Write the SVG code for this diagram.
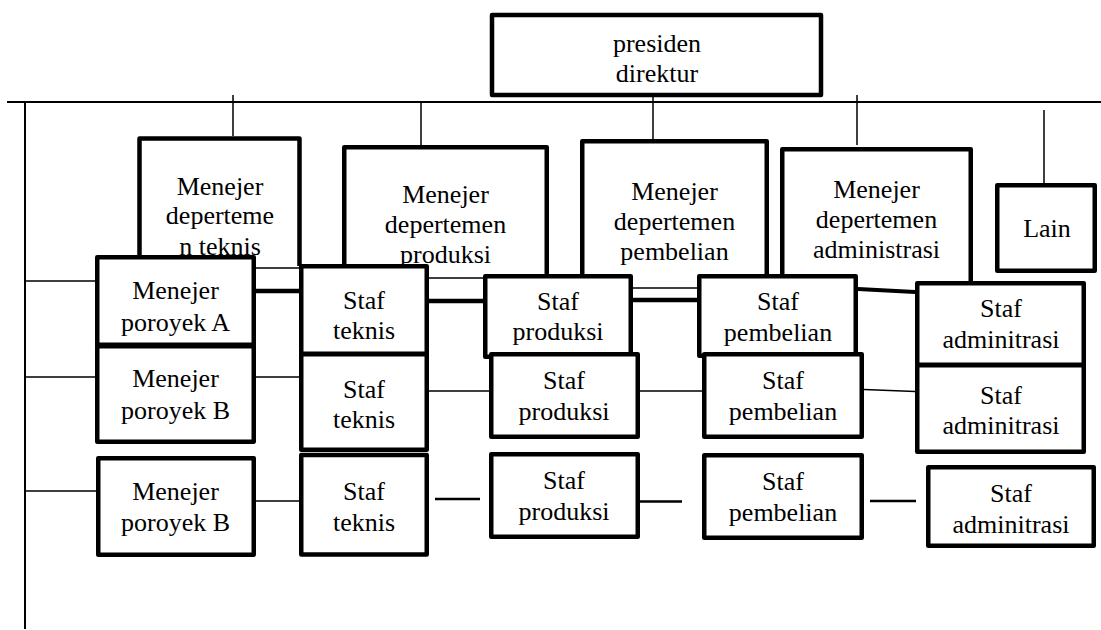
<svg xmlns="http://www.w3.org/2000/svg" width="1101" height="630" viewBox="0 0 1101 630">
<style>
.box{fill:#fff;stroke:#000;stroke-width:4.5;stroke-linejoin:round}
.t{font-family:"Liberation Serif","Times New Roman",serif;font-size:26px;fill:#000;text-anchor:middle}
.c{stroke:#000;stroke-width:1.5;fill:none}
.m{stroke:#000;stroke-width:2;fill:none}
.k{stroke:#000;stroke-width:4.5;fill:none}
.d{stroke:#000;stroke-width:2.5;fill:none}
</style>
<rect width="1101" height="630" fill="#fff"/>
<g id="presiden">
<rect class="box" x="492" y="15" width="329" height="80"/>
<text class="t" x="657" y="52">presiden</text>
<text class="t" x="657" y="82">direktur</text>
</g>
<g id="dept-teknis">
<path class="box" d="M139.5 262 V138.5 H299.5 V266"/>
<text class="t" x="220" y="195">Menejer</text>
<text class="t" x="220" y="224">deperteme</text>
<text class="t" x="220" y="255">n teknis</text>
</g>
<g id="dept-produksi">
<path class="box" d="M344.25 268 V147.25 H546.75 V276"/>
<text class="t" x="445.5" y="203">Menejer</text>
<text class="t" x="445.5" y="233">depertemen</text>
<text class="t" x="445.5" y="263">produksi</text>
</g>
<g id="dept-pembelian">
<path class="box" d="M582.25 276 V141.25 H766.75 V276"/>
<text class="t" x="674.5" y="200">Menejer</text>
<text class="t" x="674.5" y="230">depertemen</text>
<text class="t" x="674.5" y="260">pembelian</text>
</g>
<g id="dept-administrasi">
<path class="box" d="M782.25 276 V149.25 H970.75 V283"/>
<text class="t" x="876.5" y="198">Menejer</text>
<text class="t" x="876.5" y="228">depertemen</text>
<text class="t" x="876.5" y="258">administrasi</text>
</g>
<g id="lain">
<rect class="box" x="997.25" y="185.25" width="97.5" height="85.5"/>
<text class="t" x="1047" y="237">Lain</text>
</g>
<g id="connectors">
<path class="m" d="M7 102 H1101"/>
<path class="m" d="M25 102 V629"/>
<path class="c" d="M233 95 V136 M421 102 V145 M653 97 V139 M857 95 V145 M1044 110 V183"/>
<path class="c" d="M25 281 H95 M25 377 H95 M25 491 H96"/>
<path class="c" d="M256 268 H299 M256 377 H299 M256 501 H299"/>
<path class="k" d="M256 291 H299"/>
<path class="c" d="M429 278 H483 M429 391 H489"/>
<path class="k" d="M429 301 H483"/>
<path class="d" d="M435 499 H480"/>
<path class="c" d="M633 288 H697 M640 391 H702"/>
<path class="k" d="M633 300 H697"/>
<path class="d" d="M640 501.5 H682"/>
<path class="k" d="M858 289 L915 292" style="stroke-width:4"/>
<path class="c" d="M864 389.5 L915 391.5"/>
<path class="d" d="M870 501 H916"/>
</g>
<g id="menejer-proyek-a">
<rect class="box" x="97.25" y="257.25" width="156.5" height="87.5"/>
<text class="t" x="175.5" y="299">Menejer</text>
<text class="t" x="175.5" y="331">poroyek A</text>
</g>
<g id="menejer-proyek-b1">
<rect class="box" x="97.25" y="346.25" width="156.5" height="95.5"/>
<text class="t" x="175.5" y="387">Menejer</text>
<text class="t" x="175.5" y="419">poroyek B</text>
</g>
<g id="menejer-proyek-b2">
<rect class="box" x="98.25" y="458.25" width="155.5" height="96.5"/>
<text class="t" x="175.5" y="500">Menejer</text>
<text class="t" x="175.5" y="531">poroyek B</text>
</g>
<g id="staf-teknis-1">
<rect class="box" x="301.25" y="266.25" width="125.5" height="87.5"/>
<text class="t" x="364" y="309">Staf</text>
<text class="t" x="364" y="339">teknis</text>
</g>
<g id="staf-teknis-2">
<rect class="box" x="301.25" y="354.25" width="125.5" height="95.5"/>
<text class="t" x="364" y="398">Staf</text>
<text class="t" x="364" y="428">teknis</text>
</g>
<g id="staf-teknis-3">
<rect class="box" x="301.25" y="455" width="125.5" height="99.5"/>
<text class="t" x="364" y="500">Staf</text>
<text class="t" x="364" y="531">teknis</text>
</g>
<g id="staf-produksi-1">
<rect class="box" x="485.25" y="276.25" width="145.5" height="80.5"/>
<text class="t" x="558" y="310">Staf</text>
<text class="t" x="558" y="340">produksi</text>
</g>
<g id="staf-produksi-2">
<rect class="box" x="491.25" y="354.25" width="146.5" height="82.5"/>
<text class="t" x="564" y="389">Staf</text>
<text class="t" x="564" y="420">produksi</text>
</g>
<g id="staf-produksi-3">
<rect class="box" x="491.25" y="454.25" width="146.5" height="82.5"/>
<text class="t" x="564" y="489">Staf</text>
<text class="t" x="564" y="520">produksi</text>
</g>
<g id="staf-pembelian-1">
<rect class="box" x="699.25" y="276.25" width="156.5" height="79.5"/>
<text class="t" x="778" y="310">Staf</text>
<text class="t" x="778" y="341">pembelian</text>
</g>
<g id="staf-pembelian-2">
<rect class="box" x="704.25" y="354.25" width="157.5" height="82.5"/>
<text class="t" x="783" y="389">Staf</text>
<text class="t" x="783" y="420">pembelian</text>
</g>
<g id="staf-pembelian-3">
<rect class="box" x="704.25" y="455.25" width="157.5" height="82.5"/>
<text class="t" x="783" y="490">Staf</text>
<text class="t" x="783" y="521">pembelian</text>
</g>
<g id="staf-administrasi-1">
<rect class="box" x="917.25" y="283.25" width="166.5" height="81.5"/>
<text class="t" x="1001" y="317">Staf</text>
<text class="t" x="1001" y="348">adminitrasi</text>
</g>
<g id="staf-administrasi-2">
<rect class="box" x="917.25" y="365.25" width="166.5" height="86.5"/>
<text class="t" x="1001" y="404">Staf</text>
<text class="t" x="1001" y="434">adminitrasi</text>
</g>
<g id="staf-administrasi-3">
<rect class="box" x="928.25" y="467.25" width="165.5" height="78.5"/>
<text class="t" x="1011" y="502">Staf</text>
<text class="t" x="1011" y="533">adminitrasi</text>
</g>
</svg>
